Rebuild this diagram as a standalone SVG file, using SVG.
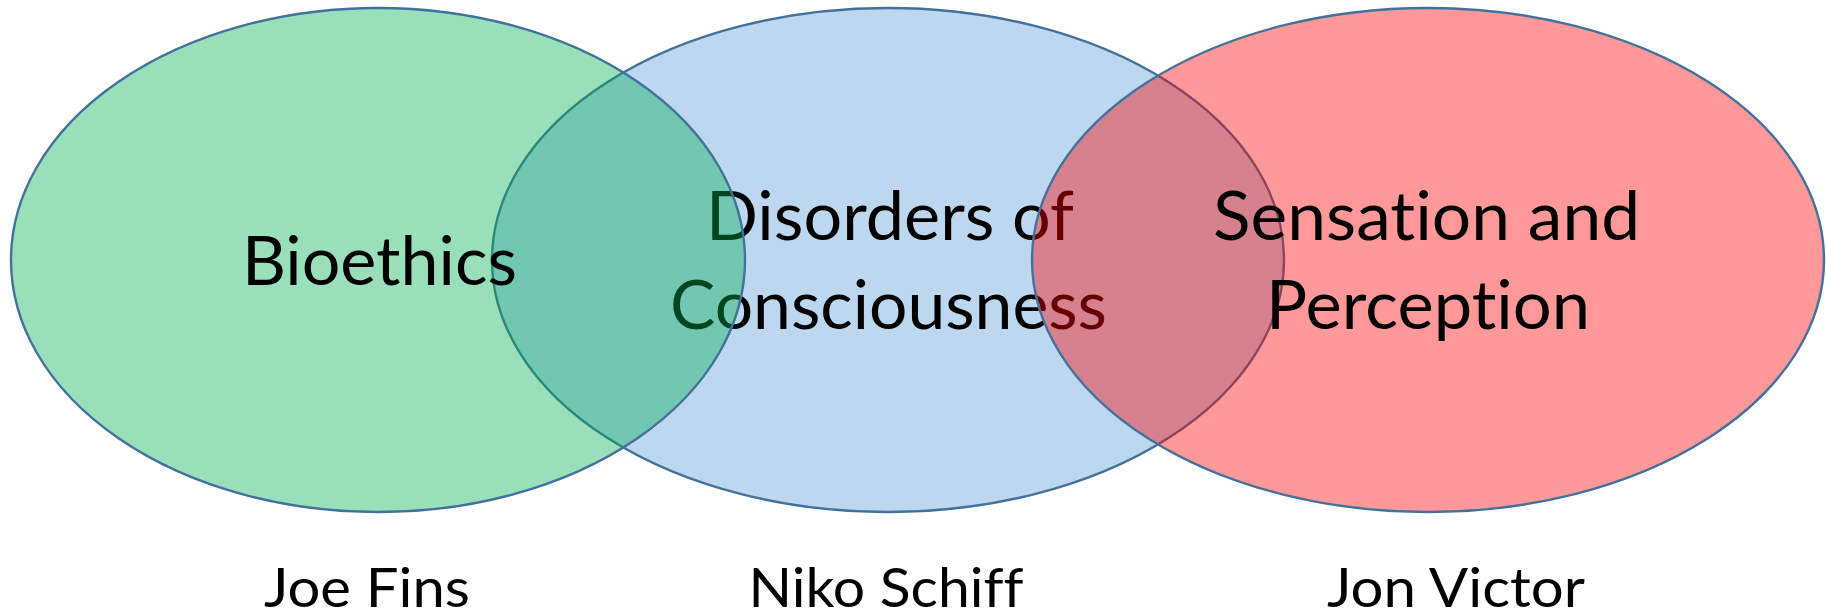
<svg xmlns="http://www.w3.org/2000/svg" width="1826" height="615" viewBox="0 0 1826 615">
<style>
.set{stroke:#41719C;stroke-width:2.4;fill-opacity:0.4}
.t{font-family:Lato,"Liberation Sans",sans-serif;font-size:67px;fill:#000;text-anchor:middle;font-variant-ligatures:none}
.lbl{font-family:Lato,"Liberation Sans",sans-serif;font-size:54px;fill:#000;text-anchor:middle;font-variant-ligatures:none}
</style>
<rect width="1826" height="615" fill="#fff"/>
<g id="consciousness">
<ellipse class="set" cx="888" cy="260" rx="396" ry="252" fill="#5B9BD5"/>
<text class="t" x="890" y="240" textLength="368" lengthAdjust="spacingAndGlyphs">Disorders of</text>
<text class="t" x="888.5" y="329" textLength="437" lengthAdjust="spacingAndGlyphs">Consciousness</text>
</g>
<g id="bioethics">
<ellipse class="set" cx="378" cy="260" rx="367" ry="252" fill="#00B050"/>
<text class="t" x="379.5" y="285" textLength="275" lengthAdjust="spacingAndGlyphs">Bioethics</text>
</g>
<g id="sensation">
<ellipse class="set" cx="1428" cy="260" rx="396" ry="252" fill="#FF0000"/>
<text class="t" x="1426.6" y="240" textLength="427" lengthAdjust="spacingAndGlyphs">Sensation and</text>
<text class="t" x="1428" y="329" textLength="324" lengthAdjust="spacingAndGlyphs">Perception</text>
</g>
<g id="labels">
<text class="lbl" x="367" y="607" textLength="206" lengthAdjust="spacingAndGlyphs">Joe Fins</text>
<text class="lbl" x="886" y="607" textLength="275" lengthAdjust="spacingAndGlyphs">Niko Schiff</text>
<text class="lbl" x="1456" y="607" textLength="258" lengthAdjust="spacingAndGlyphs">Jon Victor</text>
</g>
</svg>
